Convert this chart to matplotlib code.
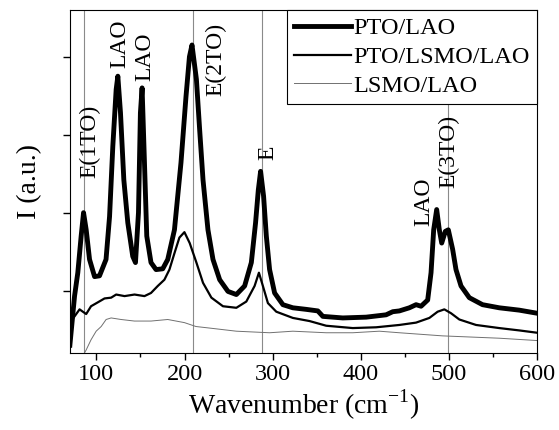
import matplotlib
matplotlib.use("Agg")
import matplotlib.pyplot as plt

plt.rcParams["font.family"] = ["Liberation Serif", "DejaVu Serif"]
plt.rcParams["mathtext.fontset"] = "custom"
plt.rcParams["mathtext.rm"] = "Liberation Serif"

# PTO/LAO (thick)
wn_pto = [70, 75.3, 79, 82.8, 85.5, 88.5, 92.3, 98, 103.6, 111, 115, 118.7, 122.5,
          124.4, 127.4, 131.2, 135.7, 141.3, 144.4, 147.8, 150, 151.9, 154.6, 157.2,
          162, 167.7, 175.3, 181, 188.6, 196, 201.7, 205.6, 208.5, 213.5, 217.2, 221,
          226.6, 232.3, 239.9, 249.3, 258.8, 268.2, 275.8, 280.6, 283.7, 286.3, 289.7,
          292.8, 296.5, 302.2, 311.6, 322.9, 338, 351.2, 356.9, 379.5, 406, 428.6,
          436.2, 443.7, 455, 462.6, 468.3, 475.8, 479.6, 482.6, 486, 489, 491.7,
          495.8, 499.2, 504.1, 507.9, 513.6, 523, 538, 557, 579.6, 600]
i_pto = [0.30, 0.93, 1.23, 1.70, 2.00, 1.78, 1.40, 1.18, 1.19, 1.40, 1.95, 2.85, 3.58,
         3.75, 3.28, 2.42, 1.87, 1.44, 1.36, 2.00, 3.28, 3.60, 2.64, 1.70,
         1.36, 1.27, 1.28, 1.40, 1.78, 2.64, 3.49, 4.00, 4.15, 3.71, 3.06, 2.42,
         1.78, 1.40, 1.14, 0.99, 0.95, 1.06, 1.36, 1.87, 2.29, 2.53, 2.21,
         1.70, 1.27, 0.97, 0.82, 0.78, 0.76, 0.74, 0.67, 0.65, 0.66, 0.69,
         0.73, 0.74, 0.78, 0.82, 0.80, 0.88, 1.23, 1.78, 2.04, 1.78, 1.61,
         1.76, 1.78, 1.53, 1.27, 1.06, 0.91, 0.82, 0.78, 0.75, 0.71]

# PTO/LSMO/LAO (medium)
wn_lsmo_pto = [70, 75.3, 81, 84.7, 88.5, 94, 101.7, 109.3, 116.8, 122.5, 132, 143.3,
               154.6, 162, 169.7, 177.2, 182.9, 188.6, 194.2, 199.9, 205.9, 213.5,
               221, 230.5, 243.6, 258.8, 270.1, 279.5, 284.4, 288.9, 294.6, 304.1,
               322.9, 341.8, 360.7, 390.8, 417.3, 443.7, 462.6, 477.7, 487.1, 494.7,
               502.3, 511.7, 530.6, 557, 579.6, 600]
i_lsmo_pto = [0.59, 0.67, 0.76, 0.73, 0.70, 0.80, 0.85, 0.90, 0.91, 0.95, 0.93, 0.95,
              0.93, 0.97, 1.06, 1.14, 1.27, 1.48, 1.68, 1.75, 1.61, 1.36,
              1.10, 0.91, 0.80, 0.78, 0.86, 1.06, 1.23, 1.06, 0.84, 0.73,
              0.65, 0.61, 0.55, 0.52, 0.53, 0.56, 0.59, 0.65, 0.73, 0.76,
              0.71, 0.63, 0.56, 0.52, 0.49, 0.46]

# LSMO/LAO (thin grey)
wn_lsmo = [84, 88.5, 94, 99.8, 105.5, 111.1, 116.8, 128.1, 143.3, 162, 181, 199.9,
           213, 228.5, 258.8, 296.5, 322.9, 360.7, 390.8, 421, 443.7, 492.7, 557, 600]
i_lsmo = [0.15, 0.24, 0.37, 0.48, 0.54, 0.63, 0.65, 0.63, 0.61, 0.61, 0.63, 0.59,
          0.54, 0.52, 0.48, 0.46, 0.48, 0.46, 0.46, 0.48, 0.46, 0.42, 0.39, 0.36]

mode_lines = [86, 209.5, 287.5, 499]
peak_labels = ["E(1TO)", "LAO", "LAO", "E(2TO)", "E", "LAO", "E(3TO)"]
label_wn = [92.6, 126.6, 154.9, 235.3, 294.2, 472, 499.2]
label_i = [2.91, 4.17, 4.0, 3.97, 2.77, 2.14, 2.78]

fig = plt.figure(figsize=(5.59, 4.30), dpi=100)
ax = fig.add_axes([0.125, 0.179, 0.836, 0.798])

for x in mode_lines:
    ax.axvline(x, color="#8a8a8a", lw=0.8, zorder=1)

ax.plot(wn_pto, i_pto, color="black", lw=3.5, label="PTO/LAO", zorder=4,
        solid_joinstyle="round")
ax.plot(wn_lsmo_pto, i_lsmo_pto, color="black", lw=1.6, label="PTO/LSMO/LAO", zorder=3)
ax.plot(wn_lsmo, i_lsmo, color="#707070", lw=0.7, label="LSMO/LAO", zorder=2)

for txt, x, y in zip(peak_labels, label_wn, label_i):
    ax.text(x, y, txt, rotation=90, ha="center", va="center", fontsize=17, zorder=5)

ax.set_xlim(70, 600)
ax.set_ylim(0.2, 4.6)
ax.set_xticks([100, 200, 300, 400, 500, 600])
ax.set_xticks([150, 250, 350, 450, 550], minor=True)
ax.set_yticks([1, 2, 3, 4])
ax.set_yticklabels([])
ax.tick_params(axis="both", which="major", direction="out", length=5, width=1,
               labelsize=17.5, top=False, right=False, pad=3)
ax.tick_params(axis="x", which="minor", direction="out", length=3, width=1)

ax.set_xlabel("Wavenumber (cm$^{\\mathregular{-1}}$)", fontsize=20, labelpad=2)
ax.set_ylabel("I (a.u.)", fontsize=20, labelpad=12)

leg = ax.legend(loc="upper right", fontsize=17.5, handlelength=2.35, frameon=True,
                fancybox=False, edgecolor="black", framealpha=1, borderaxespad=0,
                handletextpad=0.1, labelspacing=0.28, borderpad=0.3)
leg.get_frame().set_linewidth(0.8)

fig.savefig("out.png", dpi=100)
